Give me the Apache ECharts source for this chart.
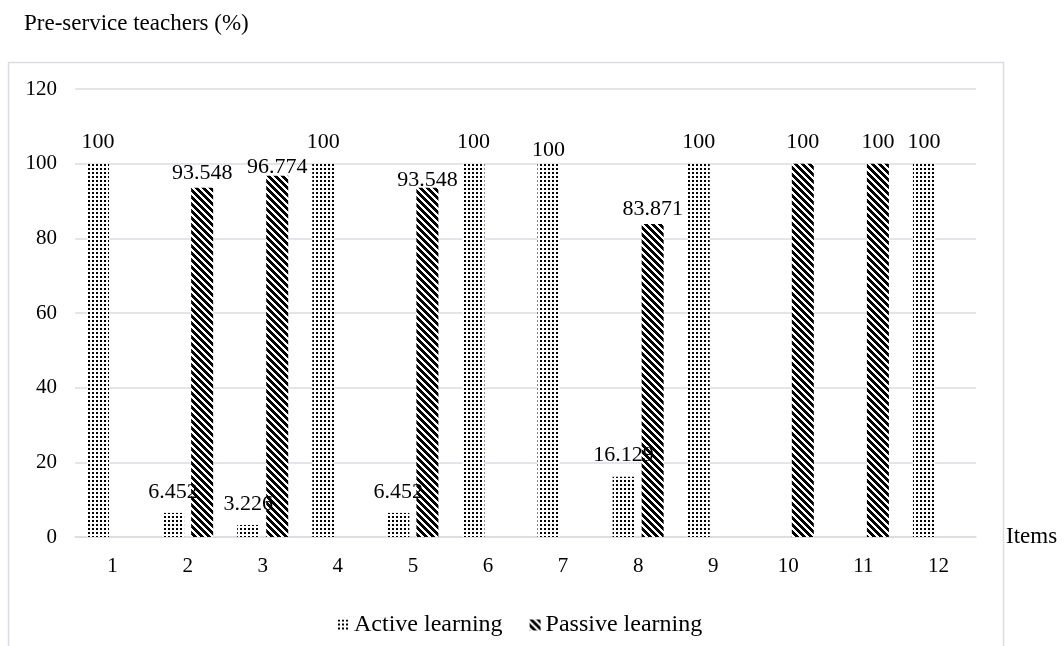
<!DOCTYPE html>
<html>
<head>
<meta charset="utf-8">
<script src="https://cdn.jsdelivr.net/npm/echarts@6/dist/echarts.min.js"></script>
<style>html,body{margin:0;padding:0;background:#fff}#c{width:1064px;height:646px}</style>
</head>
<body>
<div id="c"></div>
<script>
// ---- data ----
const categories = ['1','2','3','4','5','6','7','8','9','10','11','12'];
const activeLearning  = [100, 6.452, 3.226, 100, 6.452, 100, 100, 16.129, 100, 0, 0, 100];
const passiveLearning = [0, 93.548, 96.774, 0, 93.548, 0, 0, 83.871, 0, 100, 100, 0];
const yTicks = [0, 20, 40, 60, 80, 100, 120];

// label lift above bar top (style, not data)
const activeLabelLift  = [10, 10, 10, 10, 10, 10, 2, 11, 10, 10, 10, 10];
const passiveLabelLift = [10, 4, -3, 10, -3, 10, 10, 4, 10, 10, 10, 10];

const FONT = 'Liberation Serif';
const GRID = '#d9dde3';

function dotPattern(){
  const c = document.createElement('canvas'); c.width = 4; c.height = 4;
  const g = c.getContext('2d');
  g.fillStyle = '#fff'; g.fillRect(0,0,4,4);
  g.fillStyle = '#000'; g.fillRect(0,0,2,2);
  return c;
}
function stripePattern(){
  const n = 7;
  const c = document.createElement('canvas'); c.width = n; c.height = n;
  const g = c.getContext('2d');
  g.fillStyle = '#fff'; g.fillRect(0,0,n,n);
  g.fillStyle = '#000';
  for (let y = 0; y < n; y++) for (let x = 0; x < n; x++) {
    const m = ((x - y) % n + n) % n;
    if (m < 4) g.fillRect(x, y, 1, 1);
  }
  return c;
}
const activeFill = {image: dotPattern(), repeat: 'repeat'};
const passiveFill = {image: stripePattern(), repeat: 'repeat'};

function build(values, lifts){
  return values.map((v, i) => ({value: v, label: {distance: lifts[i]}}));
}
const labelCfg = {
  show: true, position: 'top', color: '#000', fontFamily: FONT, fontSize: 22,
  formatter: p => (p.value ? String(p.value) : '')
};

const chart = echarts.init(document.getElementById('c'), null, {renderer: 'canvas'});
chart.setOption({
  animation: false,
  backgroundColor: '#fff',
  title: {
    text: 'Pre-service teachers (%)', left: 19, top: 7,
    textStyle: {fontFamily: FONT, fontSize: 23, fontWeight: 'normal', color: '#000'}
  },
  graphic: [{
    type: 'rect', silent: true, z: -1,
    shape: {x: 8.5, y: 62.5, width: 995, height: 620},
    style: {fill: 'none', stroke: GRID, lineWidth: 1.5}
  }],
  legend: {
    left: 333, top: 608, itemWidth: 11, itemHeight: 11, itemGap: 27,
    icon: 'rect',
    textStyle: {fontFamily: FONT, fontSize: 24, color: '#000'},
    data: ['Active learning', 'Passive learning']
  },
  grid: {left: 75, right: 88, top: 89, bottom: 109, containLabel: false},
  xAxis: {
    type: 'category', data: categories,
    name: 'Items', nameLocation: 'end', nameGap: 30,
    nameTextStyle: {fontFamily: FONT, fontSize: 23, color: '#000'},
    axisLine: {lineStyle: {color: GRID, width: 1.5}},
    axisTick: {show: false},
    axisLabel: {fontFamily: FONT, fontSize: 21, color: '#000', margin: 19}
  },
  yAxis: {
    type: 'value', min: yTicks[0], max: yTicks[yTicks.length - 1], interval: 20,
    axisLine: {show: false}, axisTick: {show: false},
    axisLabel: {fontFamily: FONT, fontSize: 21, color: '#000', margin: 18},
    splitLine: {lineStyle: {color: GRID, width: 1.5}}
  },
  series: [
    {
      name: 'Active learning', type: 'bar', barWidth: 22, barGap: '32%',
      itemStyle: {color: activeFill},
      label: labelCfg,
      data: build(activeLearning, activeLabelLift)
    },
    {
      name: 'Passive learning', type: 'bar', barWidth: 22, barGap: '32%',
      itemStyle: {color: passiveFill},
      label: labelCfg,
      data: build(passiveLearning, passiveLabelLift)
    }
  ]
});
</script>
</body>
</html>
